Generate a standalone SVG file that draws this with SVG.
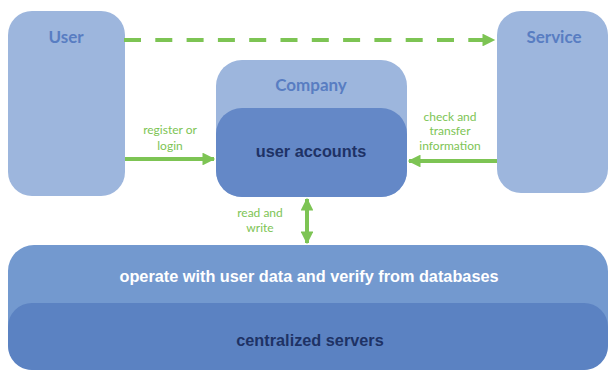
<svg xmlns="http://www.w3.org/2000/svg" width="610" height="371" viewBox="0 0 610 371">
<style>
.lt{fill:#9db6dd}
.hd{font-family:Lato,"Open Sans",sans-serif;font-weight:bold;font-size:17px;fill:#587dc2;text-anchor:middle}
.bd{font-family:"Liberation Sans",Arial,sans-serif;font-weight:bold;font-size:16.3px;text-anchor:middle}
.lb{font-family:Lato,"Open Sans",sans-serif;font-size:12px;fill:#7dc454;text-anchor:middle}
.ln{stroke:#7dc454;stroke-width:4;fill:none}
</style>
<defs>
<marker id="ah" viewBox="0 0 10 10" refX="9" refY="5" markerWidth="3.4" markerHeight="3.2" orient="auto-start-reverse" markerUnits="strokeWidth">
<path d="M0,0 L10,5 L0,10 Z" fill="#7dc454"/>
</marker>
</defs>
<g id="user">
<rect class="lt" x="8" y="11" width="117" height="185" rx="24"/>
<text class="hd" x="66" y="43">User</text>
</g>
<g id="service">
<rect class="lt" x="497" y="11" width="111" height="182" rx="24"/>
<text class="hd" x="554" y="43">Service</text>
</g>
<g id="company">
<rect class="lt" x="216" y="60" width="191" height="137" rx="26"/>
<text class="hd" x="311" y="91">Company</text>
<rect x="216" y="108" width="191" height="89" rx="26" fill="#6488c7"/>
<text class="bd" x="311" y="157" fill="#1e3265">user accounts</text>
</g>
<g id="servers">
<rect x="8" y="245" width="600" height="125" rx="26" fill="#7399cf"/>
<text class="bd" x="309" y="282" fill="#ffffff">operate with user data and verify from databases</text>
<rect x="8" y="303" width="600" height="67" rx="24" fill="#5b82c2"/>
<text class="bd" x="310" y="346" fill="#1e3265">centralized servers</text>
</g>
<g id="connectors">
<path class="ln" d="M124,40 H494" stroke-dasharray="17 14.3" marker-end="url(#ah)"/>
<path class="ln" d="M125,159 H214" marker-end="url(#ah)"/>
<path class="ln" d="M497,161 H409" marker-end="url(#ah)"/>
<path class="ln" d="M307,199 V243" marker-start="url(#ah)" marker-end="url(#ah)"/>
<text class="lb" x="170" y="134">register or</text>
<text class="lb" x="170" y="150">login</text>
<text class="lb" x="450" y="121">check and</text>
<text class="lb" x="450" y="135">transfer</text>
<text class="lb" x="450" y="150">information</text>
<text class="lb" x="260" y="217">read and</text>
<text class="lb" x="260" y="232">write</text>
</g>
</svg>
